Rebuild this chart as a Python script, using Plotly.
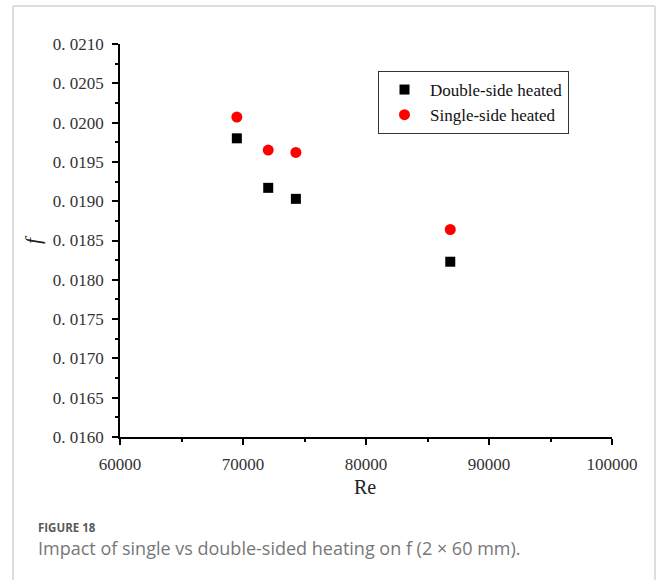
import plotly.graph_objects as go

# Reynolds number and friction factor for each heating arrangement
re_double = [69500, 72050, 74300, 86850]
f_double = [0.01980, 0.01917, 0.01903, 0.01823]
re_single = [69500, 72050, 74300, 86850]
f_single = [0.02007, 0.01965, 0.01962, 0.01864]

y_ticks = [0.0160, 0.0165, 0.0170, 0.0175, 0.0180, 0.0185, 0.0190, 0.0195, 0.0200, 0.0205, 0.0210]
y_ticktext = ["0. 0160", "0. 0165", "0. 0170", "0. 0175", "0. 0180", "0. 0185",
              "0. 0190", "0. 0195", "0. 0200", "0. 0205", "0. 0210"]
x_ticks = [60000, 70000, 80000, 90000, 100000]
x_ticktext = ["60000", "70000", "80000", "90000", "100000"]

W, H = 658, 580
L, R, T, B = 120, 46, 44, 143
pw, ph = W - L - R, H - T - B


def px(x):
    return (x - L) / pw


def py(y):
    return (H - B - y) / ph


serif = "Liberation Serif, Times New Roman, serif"

fig = go.Figure()
fig.add_trace(go.Scatter(
    x=re_double, y=f_double, mode="markers", name="Double-side heated",
    marker=dict(symbol="square", size=10, color="black"),
))
fig.add_trace(go.Scatter(
    x=re_single, y=f_single, mode="markers", name="Single-side heated",
    marker=dict(symbol="circle", size=11, color="#ff0000"),
))

axis_common = dict(
    showgrid=False, zeroline=False, showline=True, linecolor="black", linewidth=1.5,
    ticks="outside", ticklen=6, tickwidth=1.5, tickcolor="black",
    ticklabelstandoff=5,
    tickfont=dict(family=serif, size=17, color="#333"),
    minor=dict(ticks="outside", ticklen=3, tickwidth=1.5, tickcolor="black"),
)

fig.update_layout(
    width=W, height=H,
    margin=dict(l=L, r=R, t=T, b=B),
    paper_bgcolor="white", plot_bgcolor="white",
    showlegend=True,
    legend=dict(
        x=px(378), y=py(71), xanchor="left", yanchor="top",
        bordercolor="#333", borderwidth=1, bgcolor="white",
        font=dict(family=serif, size=17, color="#111"),
        itemwidth=41, tracegroupgap=0,
    ),
    xaxis=dict(range=[60000, 100000], tickvals=x_ticks, ticktext=x_ticktext,
               **axis_common),
    yaxis=dict(range=[0.0160, 0.0210], tickvals=y_ticks, ticktext=y_ticktext,
               **axis_common),
)
fig.update_xaxes(minor=dict(dtick=5000, tick0=60000))
fig.update_yaxes(minor=dict(dtick=0.00025, tick0=0.0160))

# axis titles
fig.add_annotation(x=px(365), y=py(487), xref="paper", yref="paper", text="Re",
                   xanchor="center", yanchor="middle", showarrow=False,
                   font=dict(family=serif, size=20, color="#222"))
fig.add_annotation(x=px(33), y=py(240), xref="paper", yref="paper", text="<i>f</i>",
                   xanchor="center", yanchor="middle", textangle=-90, showarrow=False,
                   font=dict(family=serif, size=21, color="#222"))

# caption
sans = "Open Sans, Noto Sans, sans-serif"
fig.add_annotation(x=px(36), y=py(527), xref="paper", yref="paper", text="<b>FIGURE 18</b>",
                   xanchor="left", yanchor="middle", showarrow=False,
                   font=dict(family=sans, size=11.5, color="#5a5a5a"))
fig.add_annotation(x=px(36), y=py(548), xref="paper", yref="paper",
                   text="Impact of single vs double-sided heating on f (2 × 60 mm).",
                   xanchor="left", yanchor="middle", showarrow=False,
                   font=dict(family=sans, size=18, color="#777"))

# card frame
frame = dict(type="line", xref="paper", yref="paper", line=dict(color="#dddddd", width=2))
fig.add_shape(x0=px(13), x1=px(13), y0=py(6), y1=py(600), **frame)
fig.add_shape(x0=px(13), x1=px(655), y0=py(6), y1=py(6), **frame)
fig.add_shape(x0=px(655), x1=px(655), y0=py(6), y1=py(600), **frame)

fig.write_html("out.html")
